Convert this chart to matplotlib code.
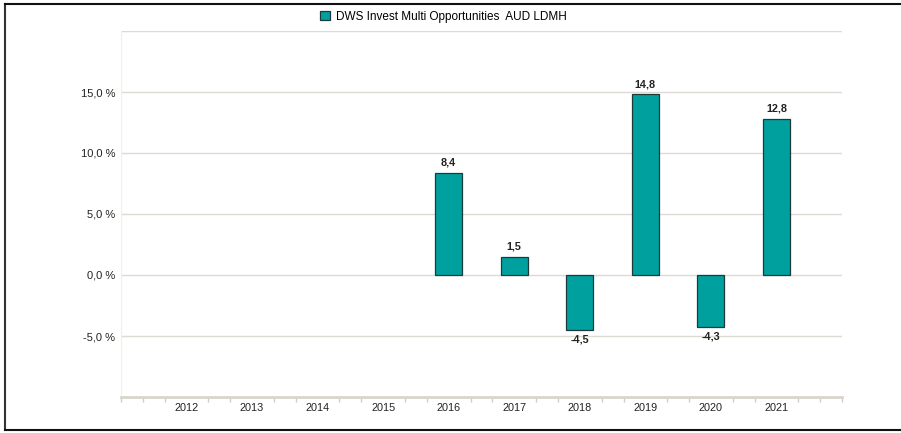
import matplotlib
matplotlib.use("Agg")
import matplotlib.pyplot as plt
from matplotlib.lines import Line2D
from matplotlib.patches import Rectangle
import numpy as np

years = [2012, 2013, 2014, 2015, 2016, 2017, 2018, 2019, 2020, 2021]
returns = [None, None, None, None, 8.4, 1.5, -4.5, 14.8, -4.3, 12.8]
y_ticks = [-5, 0, 5, 10, 15]
series_name = "DWS Invest Multi Opportunities  AUD LDMH"

bar_color = "#00a09f"
edge_color = "#1d3a3a"
grid_color = "#dcdad2"
text_color = "#222222"

plt.rcParams["font.family"] = ["Liberation Sans", "DejaVu Sans"]

fig = plt.figure(figsize=(9.01, 4.33), dpi=100)
ax = fig.add_axes([121 / 901, 1 - 397 / 433, (842 - 121) / 901, (397 - 31) / 433])

x = np.arange(len(years))
for xi, v in zip(x, returns):
    if v is None:
        continue
    ax.bar(xi, v, width=0.41, color=bar_color, edgecolor=edge_color, linewidth=0.9, zorder=3)
    label = f"{v:.1f}".replace(".", ",")
    if v >= 0:
        ax.annotate(label, (xi, v), xytext=(0, 3.5), textcoords="offset points",
                    ha="center", va="bottom", fontsize=7.8, fontweight="bold", color=text_color)
    else:
        ax.annotate(label, (xi, v), xytext=(0, -3), textcoords="offset points",
                    ha="center", va="top", fontsize=7.8, fontweight="bold", color=text_color)

ax.set_xlim(-1, len(years))
ax.set_ylim(-10, 20)

# horizontal grid
for g in y_ticks + [20]:
    ax.axhline(g, color=grid_color, linewidth=1.0, zorder=1)

ax.set_yticks(y_ticks)
ax.set_yticklabels([f"{t:.1f} %".replace(".", ",") for t in y_ticks], fontsize=8, color=text_color)
ax.tick_params(axis="y", length=0, pad=4)

ax.set_xticks(x)
ax.set_xticklabels([str(y) for y in years], fontsize=7.8, color=text_color)
ax.tick_params(axis="x", length=0, pad=4)
minor = [m for m in np.arange(-1, len(years) + 0.01, 1 / 3) if abs(m - round(m)) > 0.01 or round(m) in (-1, len(years))]
ax.set_xticks(minor, minor=True)
ax.tick_params(axis="x", which="minor", length=3.5, width=1.0, color="#cfccc2", direction="out")

for s in ["top", "right"]:
    ax.spines[s].set_visible(False)
ax.spines["left"].set_color("#f0efea")
ax.spines["left"].set_linewidth(0.8)
ax.spines["bottom"].set_color("#d8d5cb")
ax.spines["bottom"].set_linewidth(2.0)

# legend at top
handle = Rectangle((0, 0), 1, 1, facecolor=bar_color, edgecolor=edge_color, linewidth=0.9)
fig.legend([handle], [series_name], loc="center", bbox_to_anchor=(0.5 - 0.008, 1 - 17 / 433),
           frameon=False, fontsize=8.5, handlelength=0.8, handleheight=0.8, handletextpad=0.5)

# frame around the figure
fig.add_artist(Line2D([5 / 901, 5 / 901], [1 - 4 / 433, 1 - 430 / 433], color="#333333", linewidth=1.5))
fig.add_artist(Line2D([5 / 901, 1.0], [1 - 4 / 433, 1 - 4 / 433], color="#111111", linewidth=1.5))
fig.add_artist(Line2D([5 / 901, 1.0], [1 - 430 / 433, 1 - 430 / 433], color="#111111", linewidth=1.5))

fig.savefig("out.png", dpi=100)
